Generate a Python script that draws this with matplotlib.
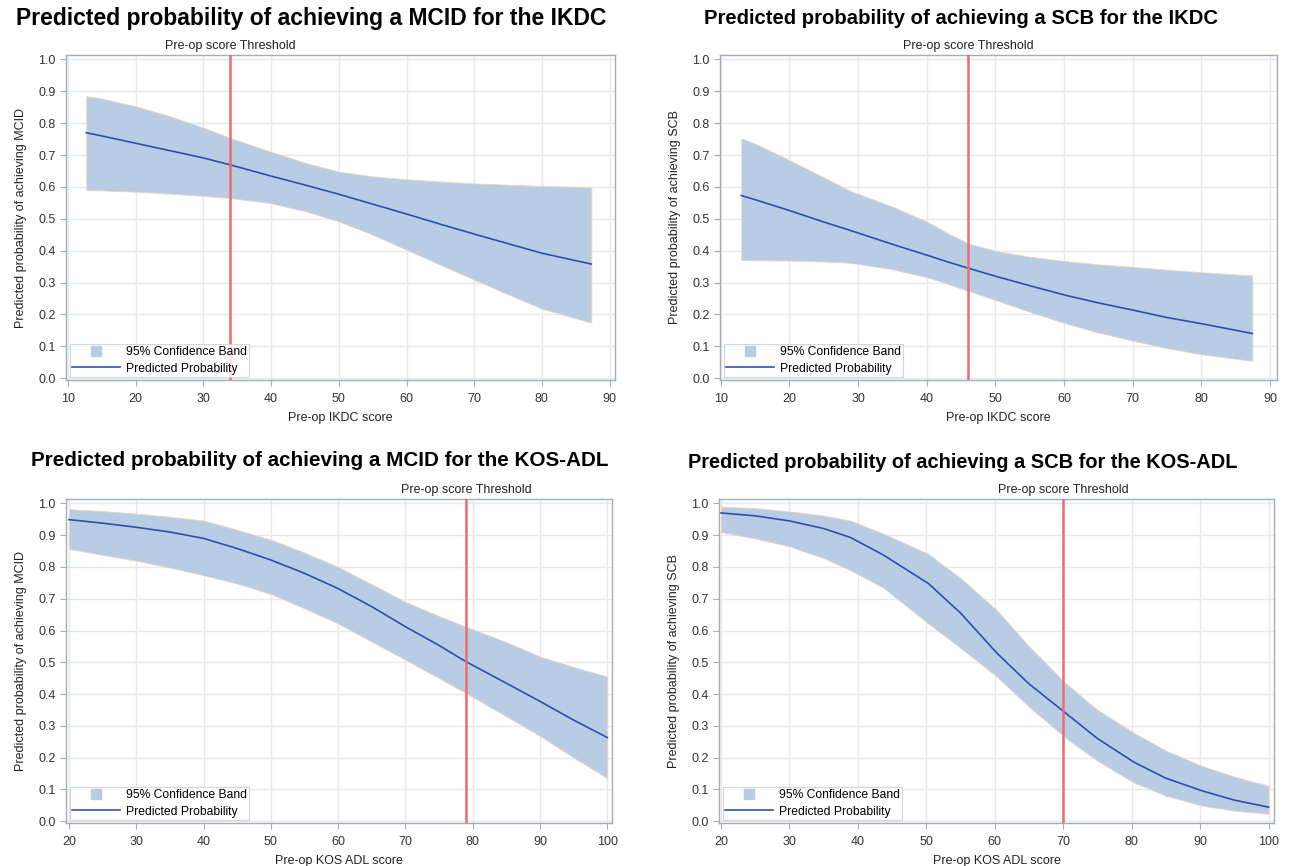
import matplotlib
matplotlib.use("Agg")
import matplotlib.pyplot as plt
from matplotlib.lines import Line2D

plt.rcParams["font.family"] = ["Liberation Sans", "DejaVu Sans"]

# ================= DATA ================= #
# IKDC - MCID
ikdc_mcid_x = [12.7, 15, 20, 25, 30, 34, 40, 45, 50, 55, 60, 65, 70, 75, 80, 87.3]
ikdc_mcid_pred = [0.770, 0.760, 0.737, 0.714, 0.691, 0.669, 0.634, 0.606, 0.577, 0.546,
                  0.515, 0.483, 0.452, 0.422, 0.392, 0.358]
ikdc_mcid_hi = [0.885, 0.877, 0.853, 0.822, 0.786, 0.753, 0.710, 0.676, 0.648, 0.633,
                0.624, 0.617, 0.611, 0.607, 0.603, 0.599]
ikdc_mcid_lo = [0.590, 0.589, 0.585, 0.579, 0.572, 0.565, 0.549, 0.524, 0.492, 0.450,
                0.403, 0.356, 0.309, 0.263, 0.218, 0.174]
ikdc_mcid_thr = 34

# IKDC - SCB
ikdc_scb_x = [13, 15, 20, 25, 28.8, 35, 40.3, 43, 46.2, 50.3, 55, 60.2, 65, 70.1, 75, 80.2, 87.4]
ikdc_scb_pred = [0.573, 0.560, 0.526, 0.490, 0.464, 0.420, 0.384, 0.365, 0.344, 0.318,
                 0.290, 0.260, 0.236, 0.213, 0.190, 0.170, 0.140]
ikdc_scb_hi = [0.752, 0.736, 0.684, 0.630, 0.588, 0.538, 0.488, 0.455, 0.421, 0.398,
               0.381, 0.367, 0.357, 0.349, 0.340, 0.332, 0.322]
ikdc_scb_lo = [0.371, 0.370, 0.369, 0.366, 0.362, 0.342, 0.315, 0.296, 0.273, 0.243,
               0.208, 0.172, 0.143, 0.117, 0.094, 0.074, 0.054]
ikdc_scb_thr = 46

# KOS-ADL - MCID
kos_mcid_x = [20, 25, 30, 35, 40, 45, 50, 55, 60, 65, 70, 75, 79, 85, 90, 95, 100]
kos_mcid_pred = [0.949, 0.938, 0.925, 0.910, 0.890, 0.858, 0.822, 0.780, 0.732, 0.675,
                 0.612, 0.553, 0.502, 0.434, 0.377, 0.318, 0.263]
kos_mcid_hi = [0.982, 0.976, 0.968, 0.958, 0.946, 0.917, 0.886, 0.845, 0.800, 0.745,
               0.690, 0.645, 0.612, 0.563, 0.518, 0.485, 0.455]
kos_mcid_lo = [0.857, 0.838, 0.820, 0.798, 0.774, 0.748, 0.715, 0.670, 0.622, 0.565,
               0.508, 0.450, 0.403, 0.330, 0.268, 0.200, 0.135]
kos_mcid_thr = 79

# KOS-ADL - SCB
kos_scb_x = [20, 25, 30, 35, 38.9, 43.7, 50.3, 55, 60.3, 65, 70.3, 75, 80.3, 85, 90.2, 95, 100]
kos_scb_pred = [0.970, 0.961, 0.945, 0.921, 0.893, 0.838, 0.748, 0.655, 0.529, 0.432,
                0.341, 0.260, 0.186, 0.135, 0.096, 0.066, 0.044]
kos_scb_hi = [0.990, 0.985, 0.975, 0.962, 0.946, 0.905, 0.841, 0.765, 0.664, 0.550,
              0.435, 0.350, 0.278, 0.222, 0.174, 0.140, 0.111]
kos_scb_lo = [0.910, 0.890, 0.865, 0.828, 0.790, 0.735, 0.622, 0.545, 0.455, 0.360,
              0.263, 0.190, 0.122, 0.080, 0.049, 0.033, 0.023]
kos_scb_thr = 70

BAND = "#b8cde4"
LINE = "#2e4fb0"
RED = "#f26b6b"
GRID = "#e6eaed"
SPINE = "#a5adb5"

W, H = 1289, 866
fig = plt.figure(figsize=(W / 100, H / 100), dpi=100)


def px_axes(l, t, r, b):
    return fig.add_axes([l / W, 1 - b / H, (r - l) / W, (b - t) / H])


panels = [
    dict(box=(66, 55, 615, 380), xlim=(9.7, 90.8), xticks=range(10, 91, 10),
         x=ikdc_mcid_x, pred=ikdc_mcid_pred, hi=ikdc_mcid_hi, lo=ikdc_mcid_lo,
         thr=ikdc_mcid_thr, xlabel="Pre-op IKDC score",
         ylabel="Predicted probability of achieving MCID",
         title="Predicted probability of achieving a MCID for the IKDC",
         tx=311, ty=18, tsize=16.5),
    dict(box=(720, 55, 1277, 380), xlim=(9.9, 91.0), xticks=range(10, 91, 10),
         x=ikdc_scb_x, pred=ikdc_scb_pred, hi=ikdc_scb_hi, lo=ikdc_scb_lo,
         thr=ikdc_scb_thr, xlabel="Pre-op IKDC score",
         ylabel="Predicted probability of achieving SCB",
         title="Predicted probability of achieving a SCB for the IKDC",
         tx=961, ty=18, tsize=14.6),
    dict(box=(66, 499, 612, 823), xlim=(19.55, 100.7), xticks=range(20, 101, 10),
         x=kos_mcid_x, pred=kos_mcid_pred, hi=kos_mcid_hi, lo=kos_mcid_lo,
         thr=kos_mcid_thr, xlabel="Pre-op KOS ADL score",
         ylabel="Predicted probability of achieving MCID",
         title="Predicted probability of achieving a MCID for the KOS-ADL",
         tx=320, ty=461, tsize=14.9),
    dict(box=(719, 499, 1274, 823), xlim=(19.7, 100.8), xticks=range(20, 101, 10),
         x=kos_scb_x, pred=kos_scb_pred, hi=kos_scb_hi, lo=kos_scb_lo,
         thr=kos_scb_thr, xlabel="Pre-op KOS ADL score",
         ylabel="Predicted probability of achieving SCB",
         title="Predicted probability of achieving a SCB for the KOS-ADL",
         tx=963, ty=463, tsize=14.4),
]

for p in panels:
    ax = px_axes(*p["box"])
    ax.fill_between(p["x"], p["lo"], p["hi"], color=BAND, edgecolor="#e8d2c4",
                    linewidth=0.6, zorder=2)
    ax.plot(p["x"], p["pred"], color=LINE, lw=1.2, zorder=3)
    ax.axvline(p["thr"], color=RED, lw=1.8, zorder=4)
    ax.text(p["thr"], 1.008, "Pre-op score Threshold", ha="center", va="bottom",
            fontsize=9, color="#222222", transform=ax.get_xaxis_transform())

    ax.set_xlim(*p["xlim"])
    ax.set_ylim(-0.006, 1.014)
    ax.set_xticks(list(p["xticks"]))
    ax.set_yticks([i / 10 for i in range(11)])
    ax.set_yticklabels([f"{i / 10:.1f}" for i in range(11)])
    ax.grid(True, color=GRID, lw=1.0, zorder=0)
    ax.set_axisbelow(True)
    for s in ax.spines.values():
        s.set_color(SPINE)
        s.set_linewidth(1.0)
    ax.tick_params(labelsize=9, colors="#333333", length=4, width=0.8, color=SPINE)
    ax.tick_params(axis="x", pad=5.5)
    ax.set_xlabel(p["xlabel"], fontsize=9, color="#222222", labelpad=5)
    ax.set_ylabel(p["ylabel"], fontsize=9, color="#222222", labelpad=8)

    handles = [
        Line2D([], [], marker="s", linestyle="none", markersize=7,
               markerfacecolor=BAND, markeredgecolor=BAND),
        Line2D([], [], color=LINE, lw=1.2),
    ]
    w = p["box"][2] - p["box"][0]
    h = p["box"][3] - p["box"][1]
    leg = ax.legend(handles, ["95% Confidence Band", "Predicted Probability"],
                    loc="lower left", bbox_to_anchor=(4 / w, 3 / h), borderaxespad=0,
                    fontsize=8.7, frameon=True, fancybox=False, handlelength=3.9,
                    borderpad=0.2, labelspacing=0.35, handletextpad=0.5)
    leg.get_frame().set_edgecolor("#c8cdd2")
    leg.get_frame().set_linewidth(0.8)

    fig.text(p["tx"] / W, 1 - p["ty"] / H, p["title"], ha="center", va="center",
             fontsize=p["tsize"], fontweight="bold", color="black")

fig.savefig("out.png", dpi=100, facecolor="white")
